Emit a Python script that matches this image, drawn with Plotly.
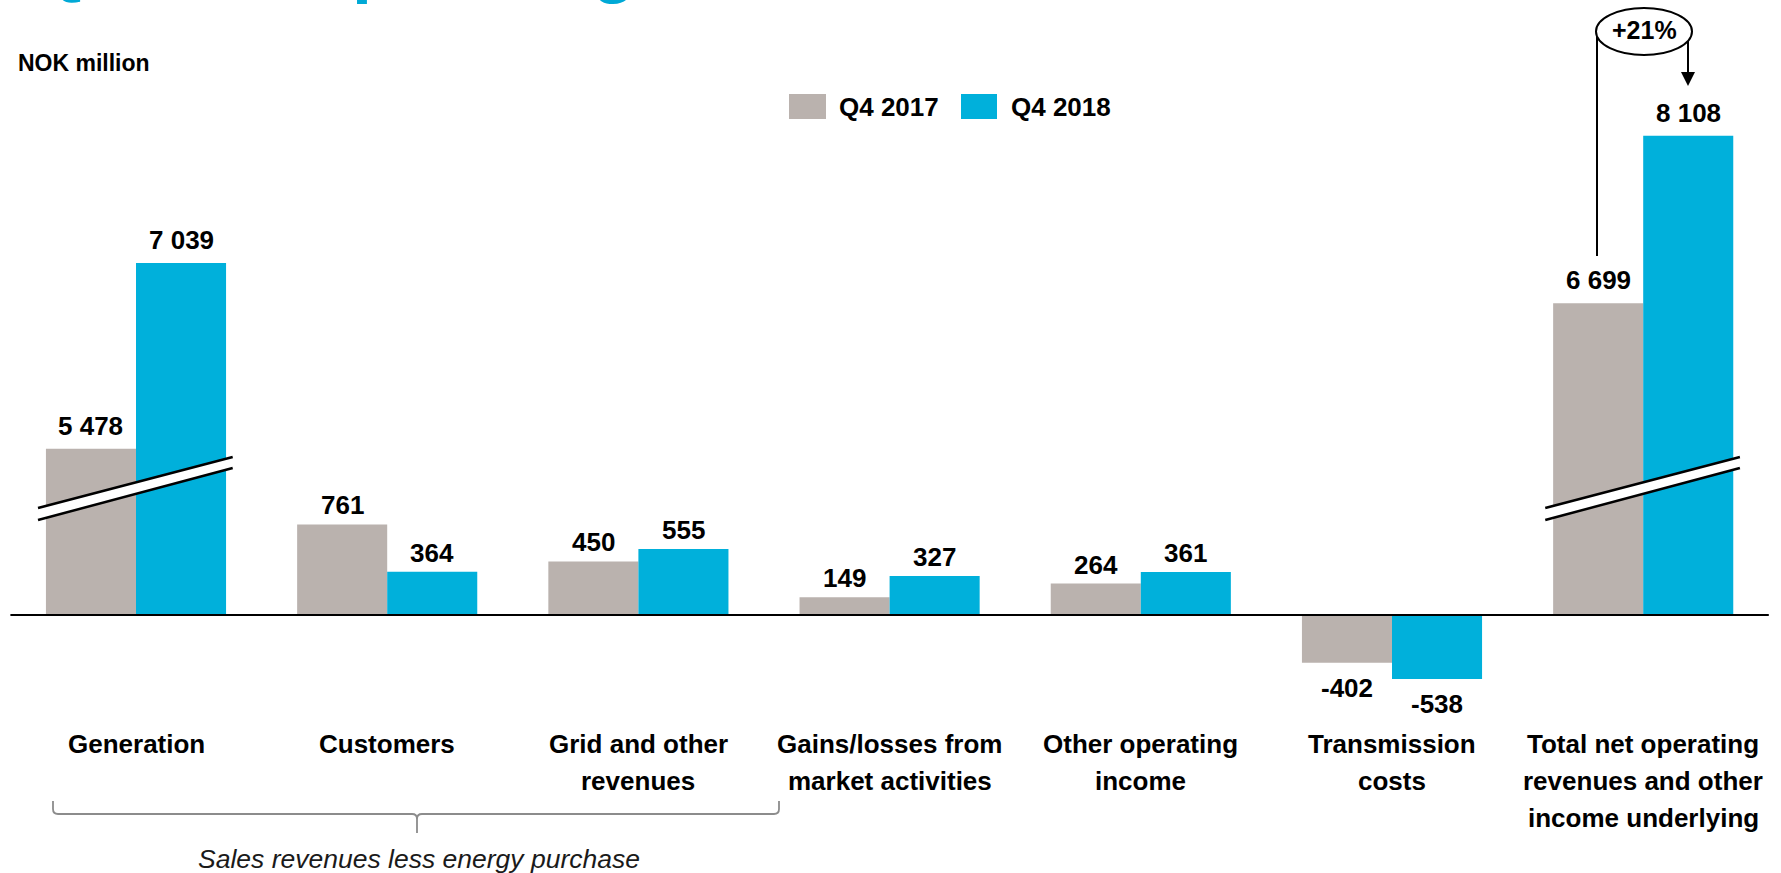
import plotly.graph_objects as go

# ---- data -------------------------------------------------------------
categories = [
    "Generation",
    "Customers",
    "Grid and other<br>revenues",
    "Gains/losses from<br>market activities",
    "Other operating<br>income",
    "Transmission<br>costs",
    "Total net operating<br>revenues and other<br>income underlying",
]
q4_2017 = [5478, 761, 450, 149, 264, -402, 6699]
q4_2018 = [7039, 364, 555, 327, 361, -538, 8108]
series_names = ["Q4 2017", "Q4 2018"]
broken_categories = [0, 6]          # drawn on a broken value axis
change_label = "+21%"
unit_label = "NOK million"
group_label = "Sales revenues less energy purchase"
title_text = "Q4: Net operating revenues and other income"

# ---- geometry / style ---------------------------------------------------
W, H = 1781, 873
GRAY = "#BAB2AE"
BLUE = "#00B0DB"
TITLE_BLUE = "#00A9D6"
FONT = "Liberation Sans"
BREAK_CUT = 4080        # units removed from the broken bars
PX_PER_UNIT = 0.119
ZERO_Y = 615
CAT_W = 251.2
FIRST_X = 136
BAR_W = 0.3585          # one bar, in category units

x_range = [-FIRST_X / CAT_W, (W - FIRST_X) / CAT_W]
y_range = [-(H - ZERO_Y) / PX_PER_UNIT, ZERO_Y / PX_PER_UNIT]


def px(x):
    return x / W


def py(y):
    return 1 - y / H


def dy(y):
    """pixel row -> y data value"""
    return (ZERO_Y - y) / PX_PER_UNIT


def fmt(v):
    return f"{v:,}".replace(",", " ")


def shown(vals):
    return [v - BREAK_CUT if i in broken_categories else v for i, v in enumerate(vals)]


x_idx = list(range(len(categories)))

fig = go.Figure()
shapes = []
ann = []

for s, (name, vals, col) in enumerate([(series_names[0], q4_2017, GRAY),
                                       (series_names[1], q4_2018, BLUE)]):
    fig.add_trace(go.Bar(
        x=x_idx, y=shown(vals), name=name,
        marker=dict(color=col, line=dict(width=0)),
        hoverinfo="skip",
    ))
    # value labels above / below each bar
    off = (s - 0.5) * BAR_W
    for i, (v, h) in enumerate(zip(vals, shown(vals))):
        if v >= 0:
            shift = 23 if i in broken_categories else 19
        else:
            shift = -25
        ann.append(dict(x=i + off, y=h, xref="x", yref="y", yshift=shift,
                        text=f"<b>{fmt(v)}</b>", showarrow=False,
                        xanchor="center", yanchor="middle",
                        font=dict(family=FONT, size=26, color="black")))

# zero line
shapes.append(dict(type="line", xref="x", yref="y", x0=-0.5, x1=len(categories) - 0.5,
                   y0=0, y1=0, line=dict(color="black", width=2)))

# axis-break marks across the tall bars
bx0, bx1 = -0.39, 0.385
up0, up1 = dy(508), dy(457)
lo0, lo1 = dy(520), dy(468)
for c in broken_categories:
    xa, xb = c + bx0, c + bx1
    shapes.append(dict(type="path", xref="x", yref="y",
                       path=f"M {xa},{up0} L {xb},{up1} L {xb},{lo1} L {xa},{lo0} Z",
                       fillcolor="white", line=dict(width=0)))
    shapes.append(dict(type="line", xref="x", yref="y", x0=xa, x1=xb, y0=up0, y1=up1,
                       line=dict(color="black", width=2.5)))
    shapes.append(dict(type="line", xref="x", yref="y", x0=xa, x1=xb, y0=lo0, y1=lo1,
                       line=dict(color="black", width=2.5)))

# category labels, one annotation per text line
LINE_Y0, LINE_STEP = 744, 37
for i, cat in enumerate(categories):
    for k, line in enumerate(cat.split("<br>")):
        ann.append(dict(x=i, xref="x", y=py(LINE_Y0 + k * LINE_STEP), yref="paper",
                        text=f"<b>{line}</b>", showarrow=False, xanchor="center",
                        yanchor="middle", font=dict(family=FONT, size=26, color="black")))

# unit label
ann.append(dict(x=px(16), y=py(63), xref="paper", yref="paper", text=f"<b>{unit_label}</b>",
                showarrow=False, xanchor="left", yanchor="middle",
                font=dict(family=FONT, size=23, color="black")))

# legend (large swatches)
for (sx0, sx1, tx), name, col in zip([(789, 826, 837), (961, 997, 1009)], series_names, [GRAY, BLUE]):
    shapes.append(dict(type="rect", xref="paper", yref="paper", x0=px(sx0), x1=px(sx1),
                       y0=py(119), y1=py(94), fillcolor=col, line=dict(width=0)))
    ann.append(dict(x=px(tx), y=py(107), xref="paper", yref="paper", text=f"<b>{name}</b>",
                    showarrow=False, xanchor="left", yanchor="middle",
                    font=dict(family=FONT, size=26, color="black")))

# growth callout: connector, arrow and ellipse
shapes.append(dict(type="line", xref="paper", yref="paper", x0=px(1597), x1=px(1597),
                   y0=py(32), y1=py(256), line=dict(color="black", width=2)))
shapes.append(dict(type="line", xref="paper", yref="paper", x0=px(1688), x1=px(1688),
                   y0=py(32), y1=py(74), line=dict(color="black", width=2)))
shapes.append(dict(type="path", xref="paper", yref="paper",
                   path=f"M {px(1681)},{py(72)} L {px(1695)},{py(72)} L {px(1688)},{py(86)} Z",
                   fillcolor="black", line=dict(width=0)))
shapes.append(dict(type="circle", xref="paper", yref="paper", x0=px(1596), x1=px(1692),
                   y0=py(55), y1=py(8), fillcolor="white", line=dict(color="black", width=2)))
ann.append(dict(x=px(1644), y=py(30), xref="paper", yref="paper", text=f"<b>{change_label}</b>",
                showarrow=False, xanchor="center", yanchor="middle",
                font=dict(family=FONT, size=25, color="black")))

# brace under the sales-revenue categories
BR_L, BR_R, BR_C = 53, 779, 417
BR_TOP, BR_MID, BR_TIP = 801, 814, 833
r = 5
brace = (
    f"M {px(BR_L)},{py(BR_TOP)} L {px(BR_L)},{py(BR_MID - r)} "
    f"Q {px(BR_L)},{py(BR_MID)} {px(BR_L + r)},{py(BR_MID)} "
    f"L {px(BR_C - r)},{py(BR_MID)} Q {px(BR_C)},{py(BR_MID)} {px(BR_C)},{py(BR_MID + r)} "
    f"L {px(BR_C)},{py(BR_TIP)} M {px(BR_C)},{py(BR_MID + r)} "
    f"Q {px(BR_C)},{py(BR_MID)} {px(BR_C + r)},{py(BR_MID)} "
    f"L {px(BR_R - r)},{py(BR_MID)} Q {px(BR_R)},{py(BR_MID)} {px(BR_R)},{py(BR_MID - r)} "
    f"L {px(BR_R)},{py(BR_TOP)}"
)
shapes.append(dict(type="path", xref="paper", yref="paper", path=brace,
                   line=dict(color="#8C8C8C", width=1.8)))
ann.append(dict(x=px(419), y=py(859), xref="paper", yref="paper", text=f"<i>{group_label}</i>",
                showarrow=False, xanchor="center", yanchor="middle",
                font=dict(family=FONT, size=26.5, color="#1A1A1A")))

# page title running off the top edge
ann.append(dict(x=px(30), y=py(6), xref="paper", yref="paper",
                text=f"<b>{title_text}</b>",
                showarrow=False, xanchor="left", yanchor="bottom",
                font=dict(family=FONT, size=72, color=TITLE_BLUE)))

fig.update_layout(
    width=W, height=H,
    margin=dict(l=0, r=0, t=0, b=0),
    paper_bgcolor="white", plot_bgcolor="white",
    barmode="group", bargap=0.283, bargroupgap=0,
    showlegend=False,
    xaxis=dict(range=x_range, visible=False, fixedrange=True),
    yaxis=dict(range=y_range, visible=False, fixedrange=True),
    shapes=shapes, annotations=ann,
    font=dict(family=FONT),
)

fig.write_html("out.html", config={"displayModeBar": False})
